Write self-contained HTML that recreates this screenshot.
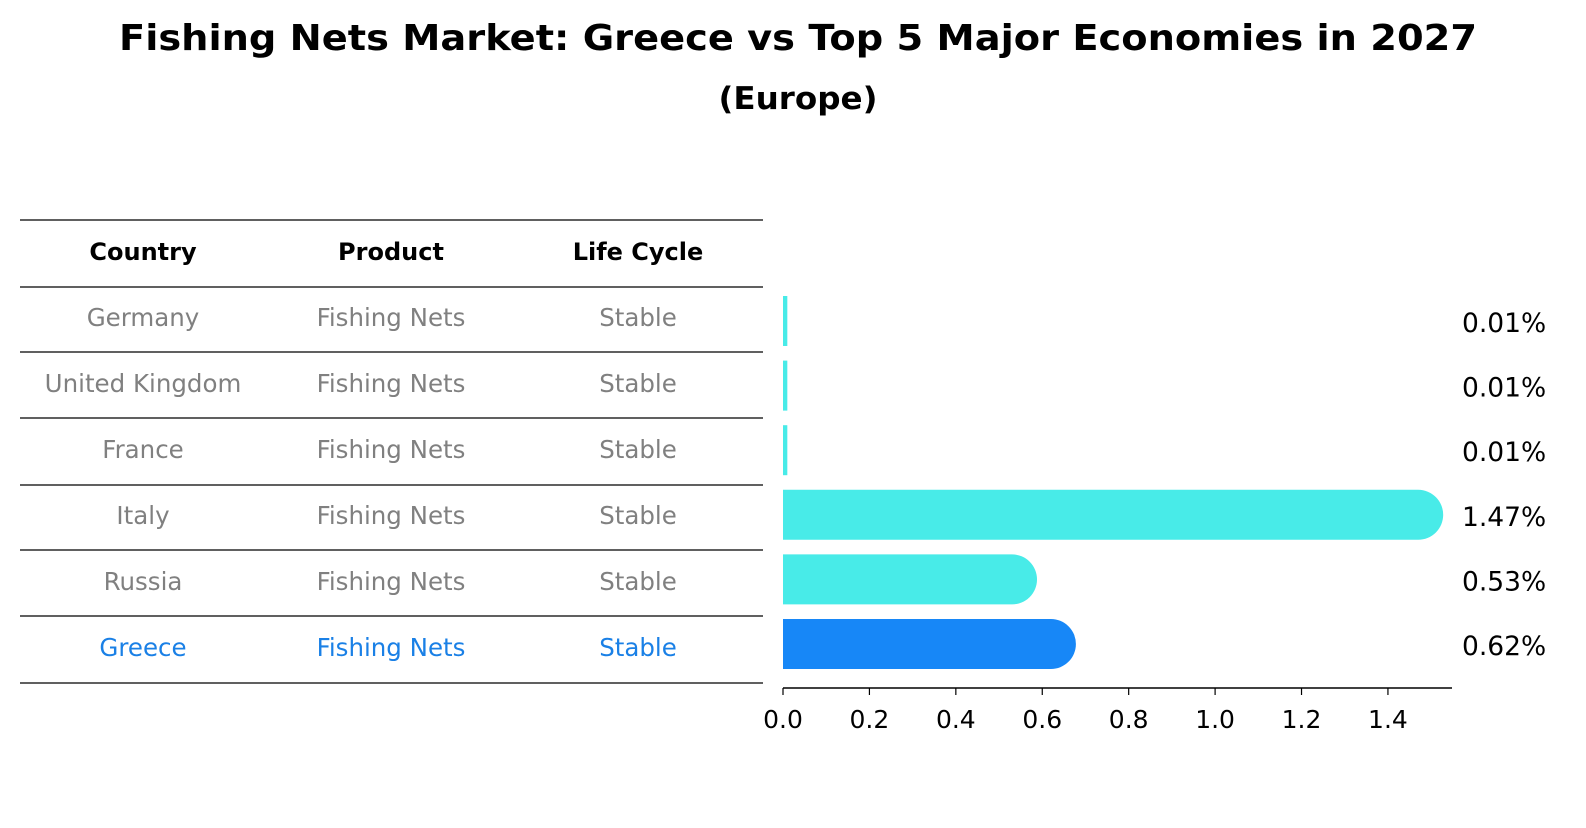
<!DOCTYPE html>
<html><head><meta charset="utf-8"><style>
body{margin:0;background:#fff;font-family:"Liberation Sans","DejaVu Sans",sans-serif;}
svg text{font-family:"DejaVu Sans","Liberation Sans",sans-serif;}
</style></head><body>
<svg width="1586" height="823" viewBox="0 0 1586 823" id="c">
<text x="798" y="50" text-anchor="middle" font-size="36" font-weight="bold" textLength="1358" lengthAdjust="spacingAndGlyphs">Fishing Nets Market: Greece vs Top 5 Major Economies in 2027</text>
<text x="798" y="109" text-anchor="middle" font-size="31" font-weight="bold" textLength="159" lengthAdjust="spacingAndGlyphs">(Europe)</text>
<g id="table"></g>
<g id="bars"></g>
<g id="axis"></g>
</svg>
<script>
const countries=["Germany","United Kingdom","France","Italy","Russia","Greece"];
const products=["Fishing Nets","Fishing Nets","Fishing Nets","Fishing Nets","Fishing Nets","Fishing Nets"];
const cycles=["Stable","Stable","Stable","Stable","Stable","Stable"];
const values=[0.01,0.01,0.01,1.47,0.53,0.62];
const labels=["0.01%","0.01%","0.01%","1.47%","0.53%","0.62%"];
const ticks=[0,0.2,0.4,0.6,0.8,1.0,1.2,1.4];
const NS="http://www.w3.org/2000/svg";
function mk(t,a,p,txt){const e=document.createElementNS(NS,t);for(const k in a)e.setAttribute(k,a[k]);if(txt!==undefined)e.textContent=txt;p.appendChild(e);return e;}
const x=v=>783+v*432.1;
const barY=i=>321+i*64.6;
const rowY=i=>318+i*66;
const tbl=document.getElementById('table');
const lines=[220,287,352,418,485,550,616,683];
lines.forEach((y,i)=>{const l=mk('line',{x1:20,x2:763,y1:y,y2:y,stroke:'#000','stroke-width':1.2},tbl);

});
const cx=[143,391,638];
["Country","Product","Life Cycle"].forEach((h,j)=>{const t=mk('text',{x:cx[j],y:260,'text-anchor':'middle','font-size':24,'font-weight':'bold'},tbl,h);

});
countries.forEach((c,i)=>{const col=i===5?'#1a80e6':'#808080';
[c,products[i],cycles[i]].forEach((s,j)=>{const t=mk('text',{x:cx[j],y:rowY(i)+8,'text-anchor':'middle','font-size':24.5,fill:col},tbl,s);

});});
const bars=document.getElementById('bars');
values.forEach((v,i)=>{const w=x(v)-x(0);const h=50;const y=barY(i)-h/2;const col=i===5?'#1787f7':'#48ebe8';
let b;
if(w<25){b=mk('rect',{x:783,y:y,width:Math.max(w,3),height:h,fill:col},bars);}
else{const r=25;b=mk('path',{d:`M783 ${y} H${783+w} A${r} ${r} 0 0 1 ${783+w} ${y+h} H783 Z`,fill:col},bars);}


const t=mk('text',{x:1462,y:barY(i)+11,'font-size':26.5},bars,labels[i]);

});
const ax=document.getElementById('axis');
const al=mk('line',{x1:783,x2:1452,y1:688,y2:688,stroke:'#000','stroke-width':1.5},ax);


ticks.forEach(t=>{const l=mk('line',{x1:x(t),x2:x(t),y1:688,y2:695,stroke:'#000','stroke-width':1.2},ax);


const tx=mk('text',{x:x(t),y:728,'text-anchor':'middle','font-size':25},ax,t.toFixed(1));

});
</script>
</body></html>
